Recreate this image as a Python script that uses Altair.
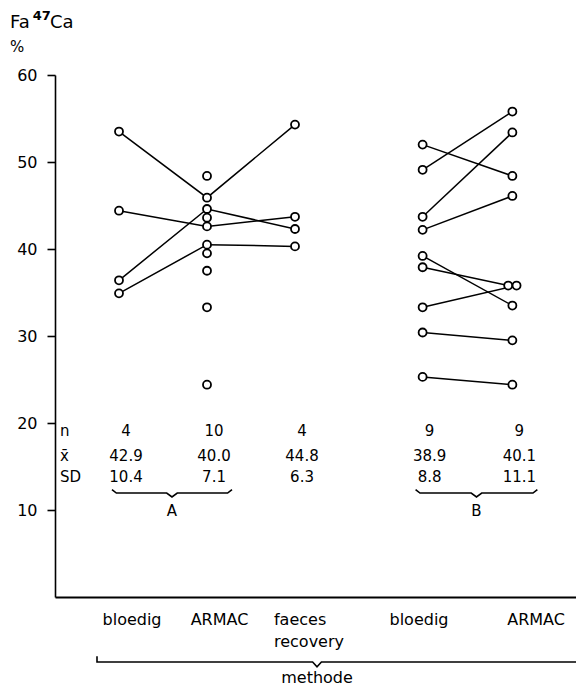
import altair as alt
import pandas as pd

FONT = "DejaVu Sans"

# Measurement columns (group A: three methods, group B: two methods)
CATEGORIES = ["bloedig", "ARMAC", "faeces recovery", "bloedig", "ARMAC"]
SLOTS = [1.0, 2.0, 3.0, 4.45, 5.47]

# Group A: paired subjects (bloedig -> ARMAC -> faeces recovery)
A_BLOEDIG = [53.5, 44.4, 36.4, 34.9]
A_ARMAC_PAIRED = [45.9, 42.6, 44.6, 40.5]
A_FAECES = [54.3, 43.7, 42.3, 40.3]
# Group A: ARMAC values without a paired measurement
A_ARMAC_ALONE = [48.4, 43.6, 39.5, 37.5, 33.3, 24.4]

# Group B: paired subjects (bloedig -> ARMAC)
B_BLOEDIG = [52.0, 49.1, 43.7, 42.2, 39.2, 37.9, 33.3, 30.4, 25.3]
B_ARMAC = [48.4, 55.8, 53.4, 46.1, 33.5, 35.8, 35.8, 29.5, 24.4]

# Summary statistics per column
STAT_N = ["4", "10", "4", "9", "9"]
STAT_MEAN = ["42.9", "40.0", "44.8", "38.9", "40.1"]
STAT_SD = ["10.4", "7.1", "6.3", "8.8", "11.1"]
ROW_NAMES = ["n", "x\u0304", "SD"]
ROW_Y = [19.1, 16.2, 13.8]

GROUPS = ["A", "B"]
GROUP_COLS = [[0, 1], [3, 4]]

# Category label anchors (slot units)
LABEL_SLOTS = [1.148, 2.142, 2.761, 4.409, 5.739]

# ---- build the point table ----
rows = []
for i in range(len(A_BLOEDIG)):
    for c, v in zip([0, 1, 2], [A_BLOEDIG[i], A_ARMAC_PAIRED[i], A_FAECES[i]]):
        rows.append({"subject": f"A{i}", "slot": SLOTS[c], "value": v})
for i, v in enumerate(A_ARMAC_ALONE):
    rows.append({"subject": f"A_single{i}", "slot": SLOTS[1], "value": v})
for i in range(len(B_BLOEDIG)):
    for c, v in zip([3, 4], [B_BLOEDIG[i], B_ARMAC[i]]):
        rows.append({"subject": f"B{i}", "slot": SLOTS[c], "value": v})
pts = pd.DataFrame(rows)

# identical values in one column are drawn side by side
rank = pts.groupby(["slot", "value"]).cumcount()
count = pts.groupby(["slot", "value"])["value"].transform("size")
pts["xpos"] = pts["slot"] + (rank - (count - 1) / 2) * 0.095

XMIN = 0.2727
XMAX = 6.193
xscale = alt.Scale(domain=[XMIN, XMAX], nice=False, zero=False)
yscale = alt.Scale(domain=[0, 60], nice=False)

base = alt.Chart(pts)

lines = base.mark_line(color="black", strokeWidth=1.5).encode(
    x=alt.X("xpos:Q", scale=xscale,
            axis=alt.Axis(labels=False, ticks=False, grid=False, title=None,
                          domainColor="black", domainWidth=1.8)),
    y=alt.Y("value:Q", scale=yscale,
            axis=alt.Axis(values=[10, 20, 30, 40, 50, 60], tickSize=8, tickWidth=1.6,
                          tickColor="black", domainColor="black", domainWidth=1.6,
                          labelFont=FONT, labelFontSize=16, labelColor="black",
                          labelPadding=10, grid=False, title=None)),
    detail="subject:N",
    order="slot:Q",
)

points = base.mark_point(shape="circle", filled=True, fill="white", stroke="black",
                         strokeWidth=1.8, size=64, opacity=1).encode(
    x=alt.X("xpos:Q", scale=xscale),
    y=alt.Y("value:Q", scale=yscale),
)

# ---- statistics block ----
stat_rows = []
for c in range(len(SLOTS)):
    for txt, ry in zip([STAT_N[c], STAT_MEAN[c], STAT_SD[c]], ROW_Y):
        stat_rows.append({"x": SLOTS[c], "y": ry, "t": txt})
stats = alt.Chart(pd.DataFrame(stat_rows)).mark_text(
    font=FONT, fontSize=15, align="center", baseline="middle", dx=7, color="black"
).encode(x=alt.X("x:Q", scale=xscale), y=alt.Y("y:Q", scale=yscale), text="t:N")

row_names = alt.Chart(pd.DataFrame({"x": [0.33] * 3, "y": ROW_Y, "t": ROW_NAMES})).mark_text(
    font=FONT, fontSize=15, align="left", baseline="middle", color="black"
).encode(x=alt.X("x:Q", scale=xscale), y=alt.Y("y:Q", scale=yscale), text="t:N")

# ---- group braces under the statistics ----
BRACE_Y = 11.95
brace_rows, brace_labels = [], []
for g, cols in zip(GROUPS, GROUP_COLS):
    left = SLOTS[cols[0]] - 0.08
    right = SLOTS[cols[-1]] + 0.284
    mid = (left + right) / 2
    path = [(left, BRACE_Y + 0.4), (left + 0.05, BRACE_Y), (mid - 0.06, BRACE_Y),
            (mid, BRACE_Y - 0.45), (mid + 0.06, BRACE_Y), (right - 0.05, BRACE_Y),
            (right, BRACE_Y + 0.4)]
    for k, (px, py) in enumerate(path):
        brace_rows.append({"g": g, "k": k, "x": px, "y": py})
    brace_labels.append({"x": mid, "y": 9.9, "t": g})

braces = alt.Chart(pd.DataFrame(brace_rows)).mark_line(color="black", strokeWidth=1.6).encode(
    x=alt.X("x:Q", scale=xscale), y=alt.Y("y:Q", scale=yscale),
    detail="g:N", order="k:Q")
brace_text = alt.Chart(pd.DataFrame(brace_labels)).mark_text(
    font=FONT, fontSize=15, align="center", baseline="middle", color="black"
).encode(x=alt.X("x:Q", scale=xscale), y=alt.Y("y:Q", scale=yscale), text="t:N")

# ---- category labels below the axis ----
cat_df = pd.DataFrame({"x": LABEL_SLOTS, "t": CATEGORIES})
cat_center = alt.Chart(cat_df[cat_df["t"] != "faeces recovery"]).transform_calculate(
    y="-2.64").mark_text(
    font=FONT, fontSize=16, align="center", baseline="middle", color="black"
).encode(x=alt.X("x:Q", scale=xscale), y=alt.Y("y:Q", scale=yscale), text="t:N")
cat_multi = alt.Chart(cat_df[cat_df["t"] == "faeces recovery"]).transform_calculate(
    y="-2.64", label="split(datum.t, ' ')").mark_text(
    font=FONT, fontSize=16, align="left", baseline="middle", color="black", lineHeight=22
).encode(x=alt.X("x:Q", scale=xscale), y=alt.Y("y:Q", scale=yscale), text="label:N")

# ---- "methode" bracket ----
M_Y = -7.47
M_LEFT, M_NOTCH = 0.75, 3.25
m_path = [(M_LEFT, M_Y + 0.65), (M_LEFT, M_Y), (M_NOTCH - 0.05, M_Y), (M_NOTCH, M_Y - 0.55),
          (M_NOTCH + 0.05, M_Y), (XMAX, M_Y)]
methode_line = alt.Chart(pd.DataFrame(
    [{"k": k, "x": a, "y": b} for k, (a, b) in enumerate(m_path)])).mark_line(
    color="black", strokeWidth=1.6).encode(
    x=alt.X("x:Q", scale=xscale), y=alt.Y("y:Q", scale=yscale), order="k:Q")
methode_text = alt.Chart(pd.DataFrame({"x": [M_NOTCH], "y": [-9.31], "t": ["methode"]})).mark_text(
    font=FONT, fontSize=16, align="center", baseline="middle", color="black"
).encode(x=alt.X("x:Q", scale=xscale), y=alt.Y("y:Q", scale=yscale), text="t:N")

# ---- y-axis title: Fa 47Ca % ----
title_main = alt.Chart(pd.DataFrame({"x": [-0.239, 0.216], "y": [65.4, 65.4], "t": ["Fa", "Ca"]})).mark_text(
    font=FONT, fontSize=18, align="left", baseline="alphabetic", color="black"
).encode(x=alt.X("x:Q", scale=xscale), y=alt.Y("y:Q", scale=yscale), text="t:N")
title_sup = alt.Chart(pd.DataFrame({"x": [0.02], "y": [66.3], "t": ["47"]})).mark_text(
    font=FONT, fontSize=13, fontWeight="bold", align="left", baseline="alphabetic", color="black"
).encode(x=alt.X("x:Q", scale=xscale), y=alt.Y("y:Q", scale=yscale), text="t:N")
title_pct = alt.Chart(pd.DataFrame({"x": [-0.239], "y": [63.2], "t": ["%"]})).mark_text(
    font=FONT, fontSize=15, align="left", baseline="middle", color="black"
).encode(x=alt.X("x:Q", scale=xscale), y=alt.Y("y:Q", scale=yscale), text="t:N")

chart = alt.layer(
    lines, points, stats, row_names, braces, brace_text, cat_center, cat_multi,
    methode_line, methode_text, title_main, title_sup, title_pct
).properties(
    width=521, height=522,
    padding={"left": 55, "top": 75, "right": 0, "bottom": 89},
    autosize="none",
    background="white",
).configure_view(strokeWidth=0)

chart.save("out.html", embed_options={"renderer": "svg", "actions": False})
